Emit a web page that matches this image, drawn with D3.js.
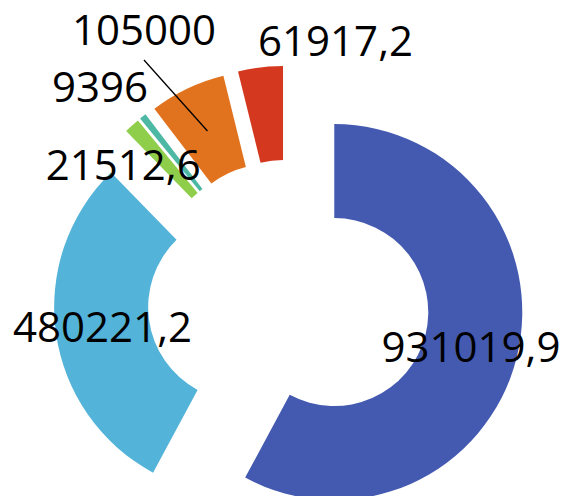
<!DOCTYPE html>
<html>
<head>
<meta charset="utf-8">
<script src="https://cdn.jsdelivr.net/npm/d3@7"></script>
<style>
html,body{margin:0;padding:0;background:#fff;}
svg{display:block;}
</style>
</head>
<body>
<svg id="chart" width="564" height="496"></svg>
<script>
// Data
const categories = ["A", "B", "C", "D", "E", "F"];
const values = [931019.9, 480221.2, 21512.6, 9396, 105000, 61917.2];
const labels = ["931019,9", "480221,2", "21512,6", "9396", "105000", "61917,2"];
const colors = ["#445AB0", "#53B3D8", "#8FCE4A", "#4DB8A4", "#E2731E", "#D4391F"];

// Layout (label offsets from slice centroid, to baseline)
const labelOffsets = [[0, 15], [0, 15], [-40, 19.5], [-72, -51], [-63.5, -86], [69.5, -57.5]];
const leader = [false, false, false, false, true, false];

const cx = 288.7, cy = 300.6;
const outerR = 188, innerR = 94, explode = 47;

const svg = d3.select("#chart");
const pie = d3.pie().sort(null).value(d => d.value).startAngle(0).endAngle(2 * Math.PI);
const arc = d3.arc().innerRadius(innerR).outerRadius(outerR);

const data = categories.map((c, i) => ({ cat: c, value: values[i], label: labels[i], color: colors[i], idx: i }));
const arcs = pie(data);

const g = svg.append("g").attr("transform", `translate(${cx},${cy})`);

const slices = g.selectAll("g.slice").data(arcs).enter().append("g")
  .attr("class", "slice")
  .attr("transform", d => {
    const m = (d.startAngle + d.endAngle) / 2;
    return `translate(${explode * Math.sin(m)},${-explode * Math.cos(m)})`;
  });

slices.append("path")
  .attr("d", arc)
  .attr("fill", d => d.data.color);

// Labels
arcs.forEach(d => {
  const m = (d.startAngle + d.endAngle) / 2;
  const ox = explode * Math.sin(m), oy = -explode * Math.cos(m);
  const c = arc.centroid(d);
  const px = c[0] + ox, py = c[1] + oy;
  const off = labelOffsets[d.data.idx];
  const lx = px + off[0], ly = py + off[1];
  if (leader[d.data.idx]) {
    g.append("line")
      .attr("x1", lx).attr("y1", ly + 15)
      .attr("x2", px).attr("y2", py)
      .attr("stroke", "#000").attr("stroke-width", 1.3);
  }
  g.append("text")
    .attr("x", lx).attr("y", ly)
    .attr("text-anchor", "middle")
    .attr("font-family", "'Open Sans', sans-serif")
    .attr("font-size", 42)
    .attr("fill", "#000")
    .text(d.data.label);
});
</script>
</body>
</html>
